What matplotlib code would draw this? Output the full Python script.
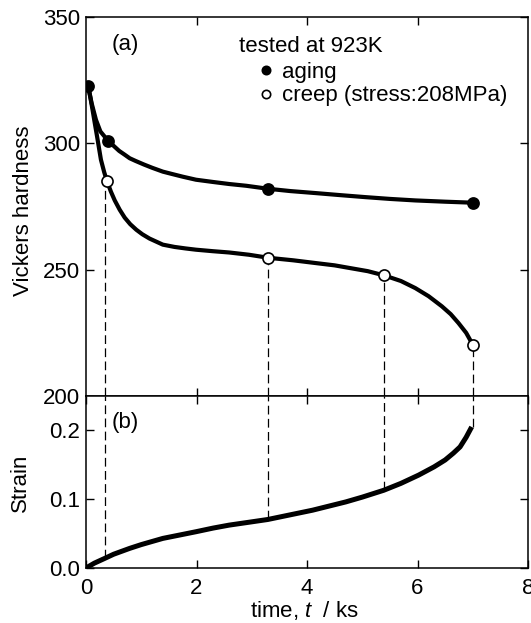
import matplotlib
matplotlib.use("Agg")
import matplotlib.pyplot as plt

plt.rcParams['font.family'] = ['Liberation Sans', 'DejaVu Sans']
plt.rcParams['mathtext.fontset'] = 'custom'
plt.rcParams['mathtext.rm'] = 'Liberation Sans'
plt.rcParams['mathtext.it'] = 'Liberation Sans:italic'

FS = 16

# ---- data ----
# measured hardness points
aging_t = [0.04, 0.40, 3.30, 7.00]
aging_h = [322.5, 301.0, 282.0, 276.5]
creep_t = [0.38, 3.30, 5.40, 7.00]
creep_h = [285.0, 254.7, 247.7, 220.3]

# fitted curves (hardness)
aging_curve_t = [0.04, 0.10, 0.18, 0.26, 0.40, 0.50, 0.60, 0.70, 0.79, 0.90, 1.05, 1.20, 1.39, 1.55,
                 1.75, 1.99, 2.30, 2.59, 2.90, 3.30, 3.70, 4.16, 4.60, 5.06, 5.50, 5.96, 6.50, 7.00]
aging_curve_h = [322.5, 316.0, 309.3, 304.7, 301.0, 299.0, 297.0, 295.5, 294.1, 293.0, 291.6, 290.3,
                 288.8, 287.9, 286.8, 285.6, 284.7, 283.9, 283.2, 282.0, 281.1, 280.3, 279.5, 278.7,
                 278.0, 277.4, 276.9, 276.5]
creep_curve_t = [0.04, 0.08, 0.12, 0.16, 0.20, 0.27, 0.33, 0.38, 0.45, 0.52, 0.61, 0.70, 0.80, 0.91,
                 1.02, 1.15, 1.28, 1.39, 1.60, 1.80, 1.99, 2.30, 2.59, 2.95, 3.30, 3.75, 4.16, 4.50,
                 4.76, 5.10, 5.40, 5.70, 5.96, 6.20, 6.44, 6.60, 6.74, 6.88, 7.00]
creep_curve_h = [322.5, 318.0, 313.0, 307.8, 302.7, 293.5, 288.5, 285.0, 280.9, 277.4, 273.7, 270.6,
                 268.0, 265.8, 264.0, 262.3, 261.0, 259.9, 259.0, 258.4, 257.9, 257.3, 256.8, 255.9,
                 254.7, 253.7, 252.6, 251.7, 250.7, 249.4, 247.7, 245.5, 242.7, 239.5, 235.5, 232.4,
                 228.9, 225.0, 220.3]

# creep strain curve
strain_t = [0.0, 0.15, 0.34, 0.50, 0.79, 1.00, 1.39, 1.70, 1.99, 2.30, 2.59, 2.95, 3.29, 3.80, 4.10,
            4.70, 5.00, 5.39, 5.70, 6.02, 6.30, 6.50, 6.65, 6.77, 6.88, 6.98]
strain_s = [0.0, 0.007, 0.014, 0.020, 0.0285, 0.034, 0.043, 0.048, 0.0527, 0.058, 0.0623, 0.0665,
            0.0705, 0.079, 0.084, 0.096, 0.103, 0.113, 0.123, 0.135, 0.147, 0.157, 0.167, 0.176,
            0.190, 0.205]

# dashed connectors (time, hardness, strain)
dash_t = [0.35, 3.30, 5.40, 7.00]
dash_h = [285.0, 254.7, 247.7, 220.3]
dash_s = [0.0145, 0.0705, 0.113, 0.205]

h_ticks = [200, 250, 300, 350]
s_ticks = [0.0, 0.1, 0.2]
s_ticklabels = ['0.0', '0.1', '0.2']
t_ticks = [0, 2, 4, 6, 8]

fig = plt.figure(figsize=(5.31, 6.23), dpi=100)
ax1 = fig.add_axes([0.162, 0.3644, 0.8324, 0.6083])
ax2 = fig.add_axes([0.162, 0.0883, 0.8324, 0.2761])

dash_style = (0, (7, 3.5))

# ---- top panel ----
ax1.plot(aging_curve_t, aging_curve_h, color='black', lw=3.0, solid_joinstyle='round', solid_capstyle='round', zorder=3)
ax1.plot(creep_curve_t, creep_curve_h, color='black', lw=3.0, solid_joinstyle='round', solid_capstyle='round', zorder=3)
ax1.vlines(dash_t, 200, dash_h, colors='black', linestyles=dash_style, lw=0.9, zorder=2)
h_aging, = ax1.plot(aging_t, aging_h, 'o', color='black', ms=8, mew=1.2, ls='none', zorder=5)
h_creep, = ax1.plot(creep_t, creep_h, 'o', mfc='white', mec='black', ms=8, mew=1.2, ls='none', zorder=5)

ax1.set_xlim(0, 8)
ax1.set_ylim(200, 350)
ax1.set_xticks([2, 4, 6])
ax1.set_yticks(h_ticks)
ax1.tick_params(axis='both', direction='in', top=True, right=True, length=6, width=1.0,
                labelsize=FS, labelbottom=False, pad=4.0)

ax1.text(0.47, 337.0, '(a)', fontsize=FS, va='baseline', ha='left')
ax1.text(2.77, 336.3, 'tested at 923K', fontsize=FS, va='baseline', ha='left')
ax1.legend([h_aging, h_creep], ['aging', 'creep (stress:208MPa)'], loc='upper left',
           bbox_to_anchor=(0.388, 0.882), frameon=False, handlelength=0.8, handletextpad=0.3,
           borderpad=0, borderaxespad=0, labelspacing=0.12, markerscale=0.75, fontsize=FS)

# ---- bottom panel ----
ax2.plot(strain_t, strain_s, color='black', lw=3.6, solid_joinstyle='round', solid_capstyle='butt', zorder=3)
ax2.vlines(dash_t, dash_s, 0.25, colors='black', linestyles=dash_style, lw=0.9, zorder=2)
ax2.set_xlim(0, 8)
ax2.set_ylim(0, 0.25)
ax2.set_xticks(t_ticks)
ax2.set_yticks(s_ticks)
ax2.set_yticklabels(s_ticklabels)
ax2.tick_params(axis='both', direction='in', top=True, right=True, length=6, width=1.0,
                labelsize=FS, pad=4.0)
ax2.tick_params(axis='x', pad=7.5)
ax2.text(0.47, 0.204, '(b)', fontsize=FS, va='baseline', ha='left')

for ax in (ax1, ax2):
    for sp in ax.spines.values():
        sp.set_linewidth(1.1)

fig.text(24 / 531, 1 - 211 / 623, 'Vickers hardness', rotation=90, ha='center', va='center', fontsize=FS)
fig.text(20 / 531, 1 - 483 / 623, 'Strain', rotation=90, ha='center', va='center', fontsize=FS)
fig.text(304.5 / 531, 1 - 617 / 623, 'time, $t$  / ks', ha='center', va='baseline', fontsize=FS)

fig.savefig('out.png', dpi=100)
